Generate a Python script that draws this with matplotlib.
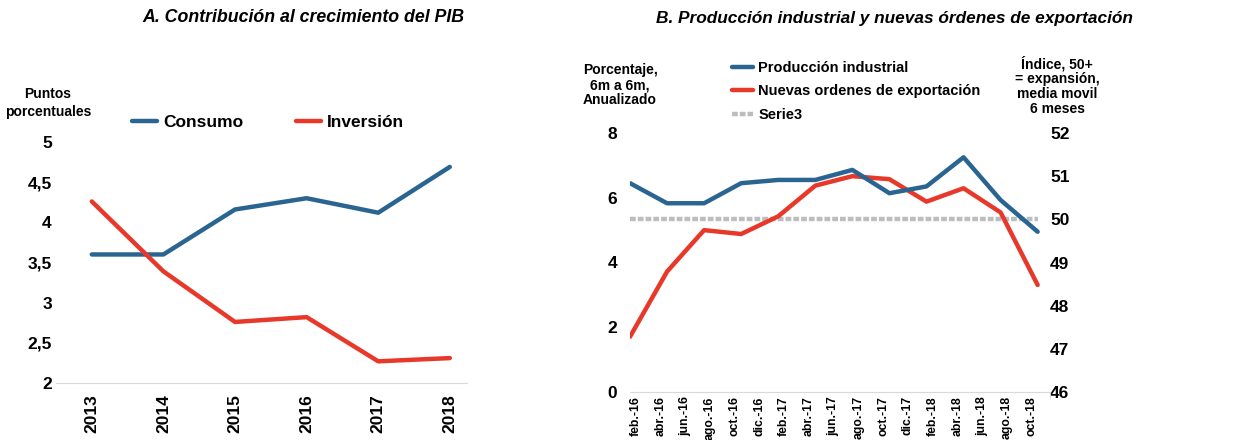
import matplotlib
matplotlib.use('Agg')
import matplotlib.pyplot as plt

# --- data ---
years = ['2013', '2014', '2015', '2016', '2017', '2018']
consumo = [3.60, 3.60, 4.16, 4.30, 4.12, 4.69]
inversion = [4.26, 3.39, 2.76, 2.82, 2.27, 2.31]

month_labels = ['feb.-16', 'abr.-16', 'jun.-16', 'ago.-16', 'oct.-16', 'dic.-16',
                'feb.-17', 'abr.-17', 'jun.-17', 'ago.-17', 'oct.-17', 'dic.-17',
                'feb.-18', 'abr.-18', 'jun.-18', 'ago.-18', 'oct.-18']
month_pos = list(range(0, 34, 2))
obs_months = [0, 3, 6, 9, 12, 15, 18, 21, 24, 27, 30, 33]
prod_ind = [6.45, 5.83, 5.83, 6.45, 6.55, 6.55, 6.86, 6.14, 6.35, 7.25, 5.93, 4.95]
ordenes = [47.28, 48.79, 49.75, 49.66, 50.07, 50.78, 51.00, 50.93, 50.41, 50.72, 50.16, 48.48]
serie3 = [50.0] * len(obs_months)

BLUE = '#2A6591'
RED = '#E8382A'
GRAY = '#BDBDBD'
AXC = '#D9D9D9'

plt.rcParams['font.family'] = ['Liberation Sans', 'DejaVu Sans']
plt.rcParams['font.weight'] = 'bold'

W, H = 1250, 440
fig = plt.figure(figsize=(W / 100, H / 100), dpi=100)


def px_axes(x0, y0, x1, y1):
    return fig.add_axes([x0 / W, 1 - y1 / H, (x1 - x0) / W, (y1 - y0) / H])


def px_legend(h, x, y, size):
    fig.legend(handles=[h], loc='center left', bbox_to_anchor=(x / W, 1 - y / H),
               frameon=False, handlelength=1.45, handletextpad=0.35,
               borderaxespad=0, borderpad=0, prop={'weight': 'bold', 'size': size})


# --- panel A ---
ax = px_axes(56, 142, 467, 383)
a1, = ax.plot(range(len(years)), consumo, color=BLUE, lw=3.2, solid_capstyle='round', label='Consumo')
a2, = ax.plot(range(len(years)), inversion, color=RED, lw=3.2, solid_capstyle='round', label='Inversión')
ax.set_ylim(2, 5)
ax.set_xlim(-0.5, 5.24)
ax.set_yticks([2, 2.5, 3, 3.5, 4, 4.5, 5])
ax.set_yticklabels(['2', '2,5', '3', '3,5', '4', '4,5', '5'], fontsize=12.5, fontweight='bold')
ax.set_xticks(range(len(years)))
ax.set_xticklabels(years, rotation=90, fontsize=12.5, fontweight='bold')
for s in ['top', 'right', 'left']:
    ax.spines[s].set_visible(False)
ax.spines['bottom'].set_color(AXC)
ax.tick_params(axis='both', length=0)
ax.tick_params(axis='y', pad=3)
ax.tick_params(axis='x', pad=8)
px_legend(a1, 132, 122, 12.5)
px_legend(a2, 296, 122, 12.5)
fig.text(48 / W, 1 - 103 / H, 'Puntos\nporcentuales', ha='center', va='center',
         fontsize=10, fontweight='bold', linespacing=1.45)
fig.text(303 / W, 1 - 18 / H, 'A. Contribución al crecimiento del PIB', ha='center',
         va='center', fontsize=12.8, fontweight='bold', style='italic')

# --- panel B ---
bx = px_axes(630, 133, 1050, 392)
l1, = bx.plot(obs_months, prod_ind, color=BLUE, lw=3.2, solid_capstyle='round',
              label='Producción industrial')
bx.set_ylim(0, 8)
bx.set_yticks([0, 2, 4, 6, 8])
bx.set_yticklabels(['0', '2', '4', '6', '8'], fontsize=12.5, fontweight='bold')
bx.set_xlim(0, 34)
bx.set_xticks(range(0, 35, 2), minor=True)
bx.set_xticks(month_pos)
bx.set_xticklabels(month_labels, rotation=90, fontsize=8.8, fontweight='bold')
bx.tick_params(axis='x', which='major', length=0, pad=3)
bx.tick_params(axis='x', which='minor', length=5, color=AXC)
bx.tick_params(axis='y', length=0, pad=9)
for lab in bx.get_xticklabels():
    lab.set_horizontalalignment('left')
for s in ['top', 'right', 'left']:
    bx.spines[s].set_visible(False)
bx.spines['bottom'].set_color(AXC)

bx2 = bx.twinx()
l3, = bx2.plot(obs_months, serie3, color=GRAY, lw=3.2, ls=(0, (1.3, 0.45)), label='Serie3')
l2, = bx2.plot(obs_months, ordenes, color=RED, lw=3.2, solid_capstyle='round',
               label='Nuevas ordenes de exportación')
bx2.set_ylim(46, 52)
bx2.set_yticks([46, 47, 48, 49, 50, 51, 52])
bx2.set_yticklabels(['46', '47', '48', '49', '50', '51', '52'], fontsize=12.5, fontweight='bold')
bx2.tick_params(axis='y', length=0, pad=0)
for s in ['top', 'right', 'left', 'bottom']:
    bx2.spines[s].set_visible(False)
bx.set_zorder(bx2.get_zorder() + 1)
bx.patch.set_visible(False)

px_legend(l1, 732, 68, 10.5)
px_legend(l2, 732, 91, 10.5)
px_legend(l3, 732, 115, 10.5)
fig.text(620 / W, 1 - 85 / H, 'Porcentaje,\n6m a 6m,\nAnualizado', ha='center', va='center',
         fontsize=10, fontweight='bold', linespacing=1.1)
fig.text(1057 / W, 1 - 86 / H, 'Índice, 50+\n= expansión,\nmedia movil\n6 meses',
         ha='center', va='center', fontsize=10, fontweight='bold', linespacing=1.1)
fig.text(894 / W, 1 - 18 / H, 'B. Producción industrial y nuevas órdenes de exportación',
         ha='center', va='center', fontsize=12.4, fontweight='bold', style='italic')

fig.patch.set_facecolor('white')
fig.savefig('out.png', dpi=100)
